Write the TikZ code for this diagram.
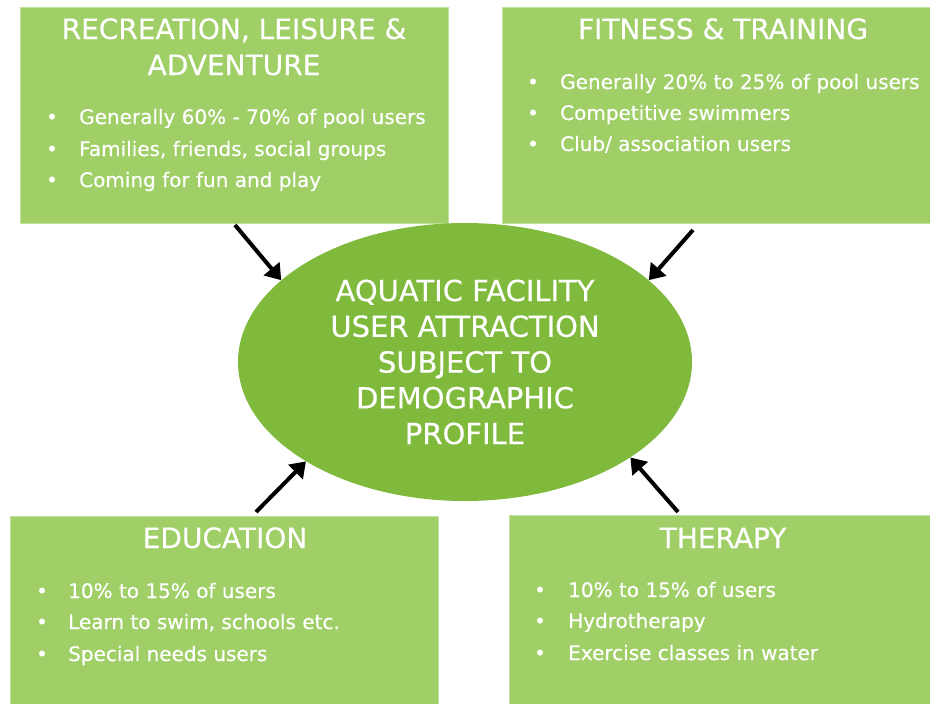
\documentclass[tikz,border=0pt]{standalone}
\usepackage{fontspec}
\setmainfont[FakeBold=0.4]{DejaVu Sans}
\usetikzlibrary{shapes.geometric,arrows.meta}
\definecolor{boxgreen}{HTML}{A0CF68}
\definecolor{ovalgreen}{HTML}{80BA3C}
\definecolor{rimgreen}{HTML}{C2E19E}
\begin{document}
\begin{tikzpicture}[x=1pt,y=-1pt,
  panel/.style={fill=boxgreen,draw=rimgreen,line width=1pt,anchor=north west,
    inner sep=0pt,minimum width=428pt,minimum height=#1},
  panel/.default=216pt,
  heading/.style={anchor=base,text=white,font=\fontsize{28}{33}\selectfont,inner sep=0pt},
  item/.style={anchor=base west,text=white,font=\fontsize{20}{24}\selectfont,inner sep=0pt},
  dot/.style={anchor=base,text=white,font=\fontsize{20}{24}\selectfont,inner sep=0pt},
  hub/.style={ellipse,fill=ovalgreen,draw=none,minimum width=454pt,minimum height=278pt,
    inner sep=0pt,text=white,align=center,font=\fontsize{29}{35.75}\selectfont},
  pointer/.style={line width=4pt,-{Triangle[length=15pt,width=20pt]}}]
\useasboundingbox (0,0) rectangle (930,704);

% four category panels
\node[panel] (rec) at (20,7) {};
\node[panel] (fit) at (502,7) {};
\node[panel=190pt] (edu) at (10,516) {};
\node[panel=190pt] (ther) at (509,515) {};

% recreation
\node[heading] (recT1) at (234,39) {RECREATION, LEISURE \&};
\node[heading] (recT2) at (234,75) {ADVENTURE};
\node[dot] (recD1) at (52,124) {•};
\node[dot] (recD2) at (52,156) {•};
\node[dot] (recD3) at (52,187) {•};
\node[item] (recI1) at (79,124) {Generally 60\% - 70\% of pool users};
\node[item] (recI2) at (79,156) {Families, friends, social groups};
\node[item] (recI3) at (79,187) {Coming for fun and play};

% fitness
\node[heading] (fitT) at (723,39) {FITNESS \& TRAINING};
\node[dot] (fitD1) at (533,89) {•};
\node[dot] (fitD2) at (533,120) {•};
\node[dot] (fitD3) at (533,151) {•};
\node[item] (fitI1) at (560,89) {Generally 20\% to 25\% of pool users};
\node[item] (fitI2) at (560,120) {Competitive swimmers};
\node[item] (fitI3) at (560,151) {Club/ association users};

% education
\node[heading] (eduT) at (225,548) {EDUCATION};
\node[dot] (eduD1) at (42,598) {•};
\node[dot] (eduD2) at (42,629) {•};
\node[dot] (eduD3) at (42,661) {•};
\node[item] (eduI1) at (68,598) {10\% to 15\% of users};
\node[item] (eduI2) at (68,629) {Learn to swim, schools etc.};
\node[item] (eduI3) at (68,661) {Special needs users};

% therapy
\node[heading] (therT) at (723,548) {THERAPY};
\node[dot] (therD1) at (540,597) {•};
\node[dot] (therD2) at (540,628) {•};
\node[dot] (therD3) at (540,660) {•};
\node[item] (therI1) at (568,597) {10\% to 15\% of users};
\node[item] (therI2) at (568,628) {Hydrotherapy};
\node[item] (therI3) at (568,660) {Exercise classes in water};

% central ellipse
\node[hub] (hub) at (465,362) {AQUATIC FACILITY\\USER ATTRACTION\\SUBJECT TO\\DEMOGRAPHIC\\PROFILE};

% arrows into the ellipse
\coordinate (recA) at (235,225);
\coordinate (fitA) at (693,230);
\coordinate (eduA) at (256,512);
\coordinate (therA) at (678,512);
\draw[pointer] (recA) -- (hub.156);
\draw[pointer] (fitA) -- (hub.24);
\draw[pointer] (eduA) -- (hub.212);
\draw[pointer] (therA) -- (hub.330);
\end{tikzpicture}
\end{document}
